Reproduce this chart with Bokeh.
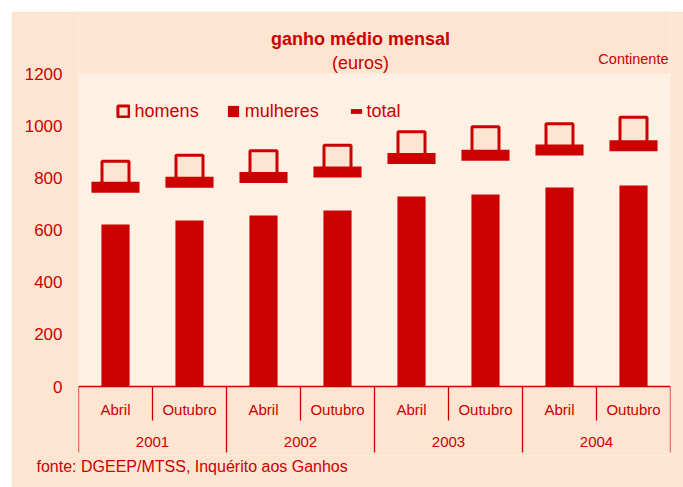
from bokeh.plotting import figure
from bokeh.models import (FactorRange, Range1d, FixedTicker, ColumnDataSource, Legend, LegendItem,
                          Label, BoxAnnotation, Span, Title)
from bokeh.core.properties import value
from bokeh.embed import file_html
from bokeh.resources import INLINE

# ---- data ----
years = ["2001", "2002", "2003", "2004"]
months = ["Abril", "Outubro"]
homens = [812, 835, 852, 873, 925, 944, 956, 981]
mulheres = [621, 636, 656, 675, 728, 736, 763, 771]
total = [764, 783, 801, 822, 874, 887, 907, 923]
y_ticks = [0, 200, 400, 600, 800, 1000, 1200]

RED = "#CC0000"
OUTER = "#FDE5D1"
INNER = "#FEF0E3"
FONT = "Liberation Sans"

factors = [(y, m) for y in years for m in months]

x_range = FactorRange(factors=factors, range_padding=0, group_padding=0, factor_padding=0)
y_range = Range1d(-264.5, 1437.7)

p = figure(width=672, height=476, x_range=x_range, y_range=y_range,
           output_backend="svg", toolbar_location=None, x_axis_location=None,
           min_border_left=67, min_border_right=13, min_border_top=0, min_border_bottom=32)
p.margin = (11, 0, 0, 11)
p.background_fill_color = OUTER
p.border_fill_color = OUTER
p.outline_line_color = None
p.grid.visible = False

# y axis
ya = p.yaxis[0]
ya.ticker = FixedTicker(ticks=y_ticks)
ya.axis_line_color = None
ya.major_tick_line_color = None
ya.minor_tick_line_color = None
ya.major_label_standoff = 10
ya.major_label_text_font = FONT
ya.major_label_text_font_size = "17px"
ya.major_label_text_color = RED

# inner lighter plotting area
p.add_layout(BoxAnnotation(bottom=0, top=max(y_ticks), fill_color=INNER, fill_alpha=1,
                           line_color=None, level="underlay"))

src = ColumnDataSource(dict(x=factors, homens=homens, mulheres=mulheres, total=total))

r_m = p.vbar(x="x", top="mulheres", bottom=0, width=0.38, source=src,
             fill_color=RED, line_color=None)
r_h = p.rect(x="x", y="homens", width=27, height=27, width_units="screen", height_units="screen",
             source=src, fill_color=OUTER, line_color=RED, line_width=3)
r_t = p.rect(x="x", y="total", width=0.65, height=11, height_units="screen", source=src,
             fill_color=RED, line_color=None)

# baseline
p.add_layout(Span(location=0, dimension="width", line_color=RED, line_width=1.5))

# category axis drawn as a table below zero
sep_x, sep_y1 = [], []
for f in factors:
    sep_x.append((f[0], f[1], -0.5))
    sep_y1.append(-253 if f[1] == months[0] else -130)
sep_x.append((factors[-1][0], factors[-1][1], 0.5))
sep_y1.append(-253)
p.segment(x0=sep_x, x1=sep_x, y0=[0] * len(sep_x), y1=sep_y1, line_color=RED, line_width=1.3)

p.text(x=factors, y=[-88] * len(factors), text=[f[1] for f in factors],
       text_font=value(FONT), text_font_size="15px", text_color=RED,
       text_align="center", text_baseline="middle")
p.text(x=years, y=[-211] * len(years), text=years,
       text_font=value(FONT), text_font_size="15px", text_color=RED,
       text_align="center", text_baseline="middle")

# legends
leg1 = Legend(items=[LegendItem(label="homens", renderers=[r_h]),
                     LegendItem(label="mulheres", renderers=[r_m])],
              location=(37.6, 333.5), orientation="horizontal",
              glyph_width=14, glyph_height=14, label_standoff=5, spacing=27,
              padding=0, margin=0, border_line_color=None, background_fill_alpha=0,
              label_text_font=FONT, label_text_font_size="18px", label_text_color=RED)
leg2 = Legend(items=[LegendItem(label="total", renderers=[r_t])],
              location=(270.6, 333.5), orientation="horizontal",
              glyph_width=14, glyph_height=6, label_standoff=4, spacing=0,
              padding=0, margin=0, border_line_color=None, background_fill_alpha=0,
              label_text_font=FONT, label_text_font_size="18px", label_text_color=RED)
p.add_layout(leg1)
p.add_layout(leg2)

# texts
p.add_layout(Label(x=282, y=417, x_units="screen", y_units="screen", text="ganho médio mensal",
                   text_font=FONT, text_font_size="18px", text_font_style="bold", text_color=RED,
                   text_align="center", text_baseline="alphabetic"))
p.add_layout(Label(x=282, y=393, x_units="screen", y_units="screen", text="(euros)",
                   text_font=FONT, text_font_size="18px", text_color=RED,
                   text_align="center", text_baseline="alphabetic"))
p.add_layout(Label(x=590, y=397, x_units="screen", y_units="screen", text="Continente",
                   text_font=FONT, text_font_size="14.5px", text_color=RED,
                   text_align="right", text_baseline="alphabetic"))
p.add_layout(Title(text="fonte: DGEEP/MTSS, Inquérito aos Ganhos", align="left", offset=-42,
                   vertical_align="top", standoff=4,
                   text_font=FONT, text_font_size="16px", text_font_style="normal",
                   text_color=RED), "below")

open("out.html", "w").write(file_html(p, INLINE))
